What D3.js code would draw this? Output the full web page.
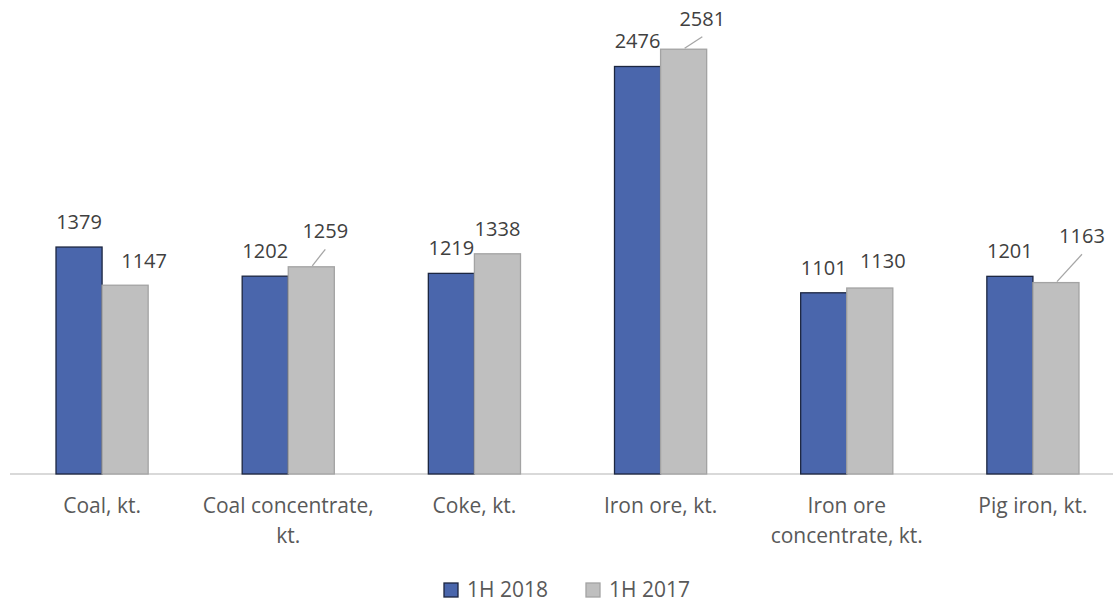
<!DOCTYPE html>
<html>
<head>
<meta charset="utf-8">
<script src="https://cdn.jsdelivr.net/npm/d3@7"></script>
<style>
  html, body { margin: 0; padding: 0; background: #fff; }
  svg { display: block; }
  text { font-family: "Open Sans", sans-serif; }
</style>
</head>
<body>
<script>
// Production volumes, kt.
const categories = [
  ["Coal, kt."],
  ["Coal concentrate,", "kt."],
  ["Coke, kt."],
  ["Iron ore, kt."],
  ["Iron ore", "concentrate, kt."],
  ["Pig iron, kt."]
];
const seriesNames = ["1H 2018", "1H 2017"];
const values2018 = [1379, 1202, 1219, 2476, 1101, 1201];
const values2017 = [1147, 1259, 1338, 2581, 1130, 1163];

const W = 1113, H = 603;
const colors = { "1H 2018": "#4a66ac", "1H 2017": "#bfbfbf" };
const strokes = { "1H 2018": "#1c2640", "1H 2017": "#a3a3a3" };

// Labels that sit off-centre; some get a leader line back to the bar.
const labelNudge = {
  "1H 2017|0": { dx: 19, dy: -17.7, leader: false },
  "1H 2017|1": { dx: 14, dy: -28.5, leader: true },
  "1H 2017|3": { dx: 18.7, dy: -23.5, leader: true },
  "1H 2017|4": { dx: 13, dy: -20.3, leader: false },
  "1H 2017|5": { dx: 26, dy: -39.3, leader: true }
};

const svg = d3.select("body").append("svg").attr("width", W).attr("height", H);

const keys = categories.map((c, i) => i);
const x = d3.scaleBand().domain(keys).range([9, 1126]).paddingInner(0.505).paddingOuter(0.2525);
const xs = d3.scaleBand().domain(seriesNames).range([0, x.bandwidth()]);
const y = d3.scaleLinear().domain([0, 2880]).range([474, 0]);

const series = [
  { name: "1H 2018", values: values2018 },
  { name: "1H 2017", values: values2017 }
];

// Category axis line
svg.append("line")
  .attr("x1", 10).attr("x2", W)
  .attr("y1", y(0)).attr("y2", y(0))
  .attr("stroke", "#d9d9d9").attr("stroke-width", 2);

// Bars
series.forEach(s => {
  svg.append("g").selectAll("rect")
    .data(s.values)
    .join("rect")
    .attr("x", (d, i) => x(i) + xs(s.name))
    .attr("y", d => y(d))
    .attr("width", xs.bandwidth())
    .attr("height", d => y(0) - y(d))
    .attr("fill", colors[s.name])
    .attr("stroke", strokes[s.name])
    .attr("stroke-width", 1.3);
});

// Value labels
series.forEach(s => {
  const g = svg.append("g");
  s.values.forEach((v, i) => {
    const cx = x(i) + xs(s.name) + xs.bandwidth() / 2;
    const top = y(v);
    const nudge = labelNudge[s.name + "|" + i] || { dx: 0, dy: -18, leader: false };
    const lx = cx + nudge.dx, ly = top + nudge.dy;
    if (nudge.leader) {
      g.append("line")
        .attr("x1", cx + 1).attr("y1", top - 1)
        .attr("x2", lx).attr("y2", ly + 11)
        .attr("stroke", "#a6a6a6").attr("stroke-width", 1.3);
    }
    g.append("text")
      .attr("x", lx).attr("y", ly)
      .attr("text-anchor", "middle")
      .attr("font-size", 20)
      .attr("fill", "#404040")
      .text(v);
  });
});

// Category labels
const cat = svg.append("g");
categories.forEach((lines, i) => {
  const t = cat.append("text")
    .attr("x", x(i) + x.bandwidth() / 2)
    .attr("y", 513)
    .attr("text-anchor", "middle")
    .attr("font-size", 21)
    .attr("fill", "#595959");
  lines.forEach((ln, k) => {
    t.append("tspan")
      .attr("x", x(i) + x.bandwidth() / 2)
      .attr("dy", k === 0 ? 0 : 30)
      .text(ln);
  });
});

// Legend
const legendX = [444, 586];
const lg = svg.append("g");
series.forEach((s, k) => {
  lg.append("rect")
    .attr("x", legendX[k]).attr("y", 583)
    .attr("width", 14).attr("height", 14)
    .attr("fill", colors[s.name])
    .attr("stroke", strokes[s.name]).attr("stroke-width", 1.3);
  lg.append("text")
    .attr("x", legendX[k] + 23).attr("y", 597)
    .attr("font-size", 21)
    .attr("fill", "#595959")
    .text(s.name);
});
</script>
</body>
</html>
